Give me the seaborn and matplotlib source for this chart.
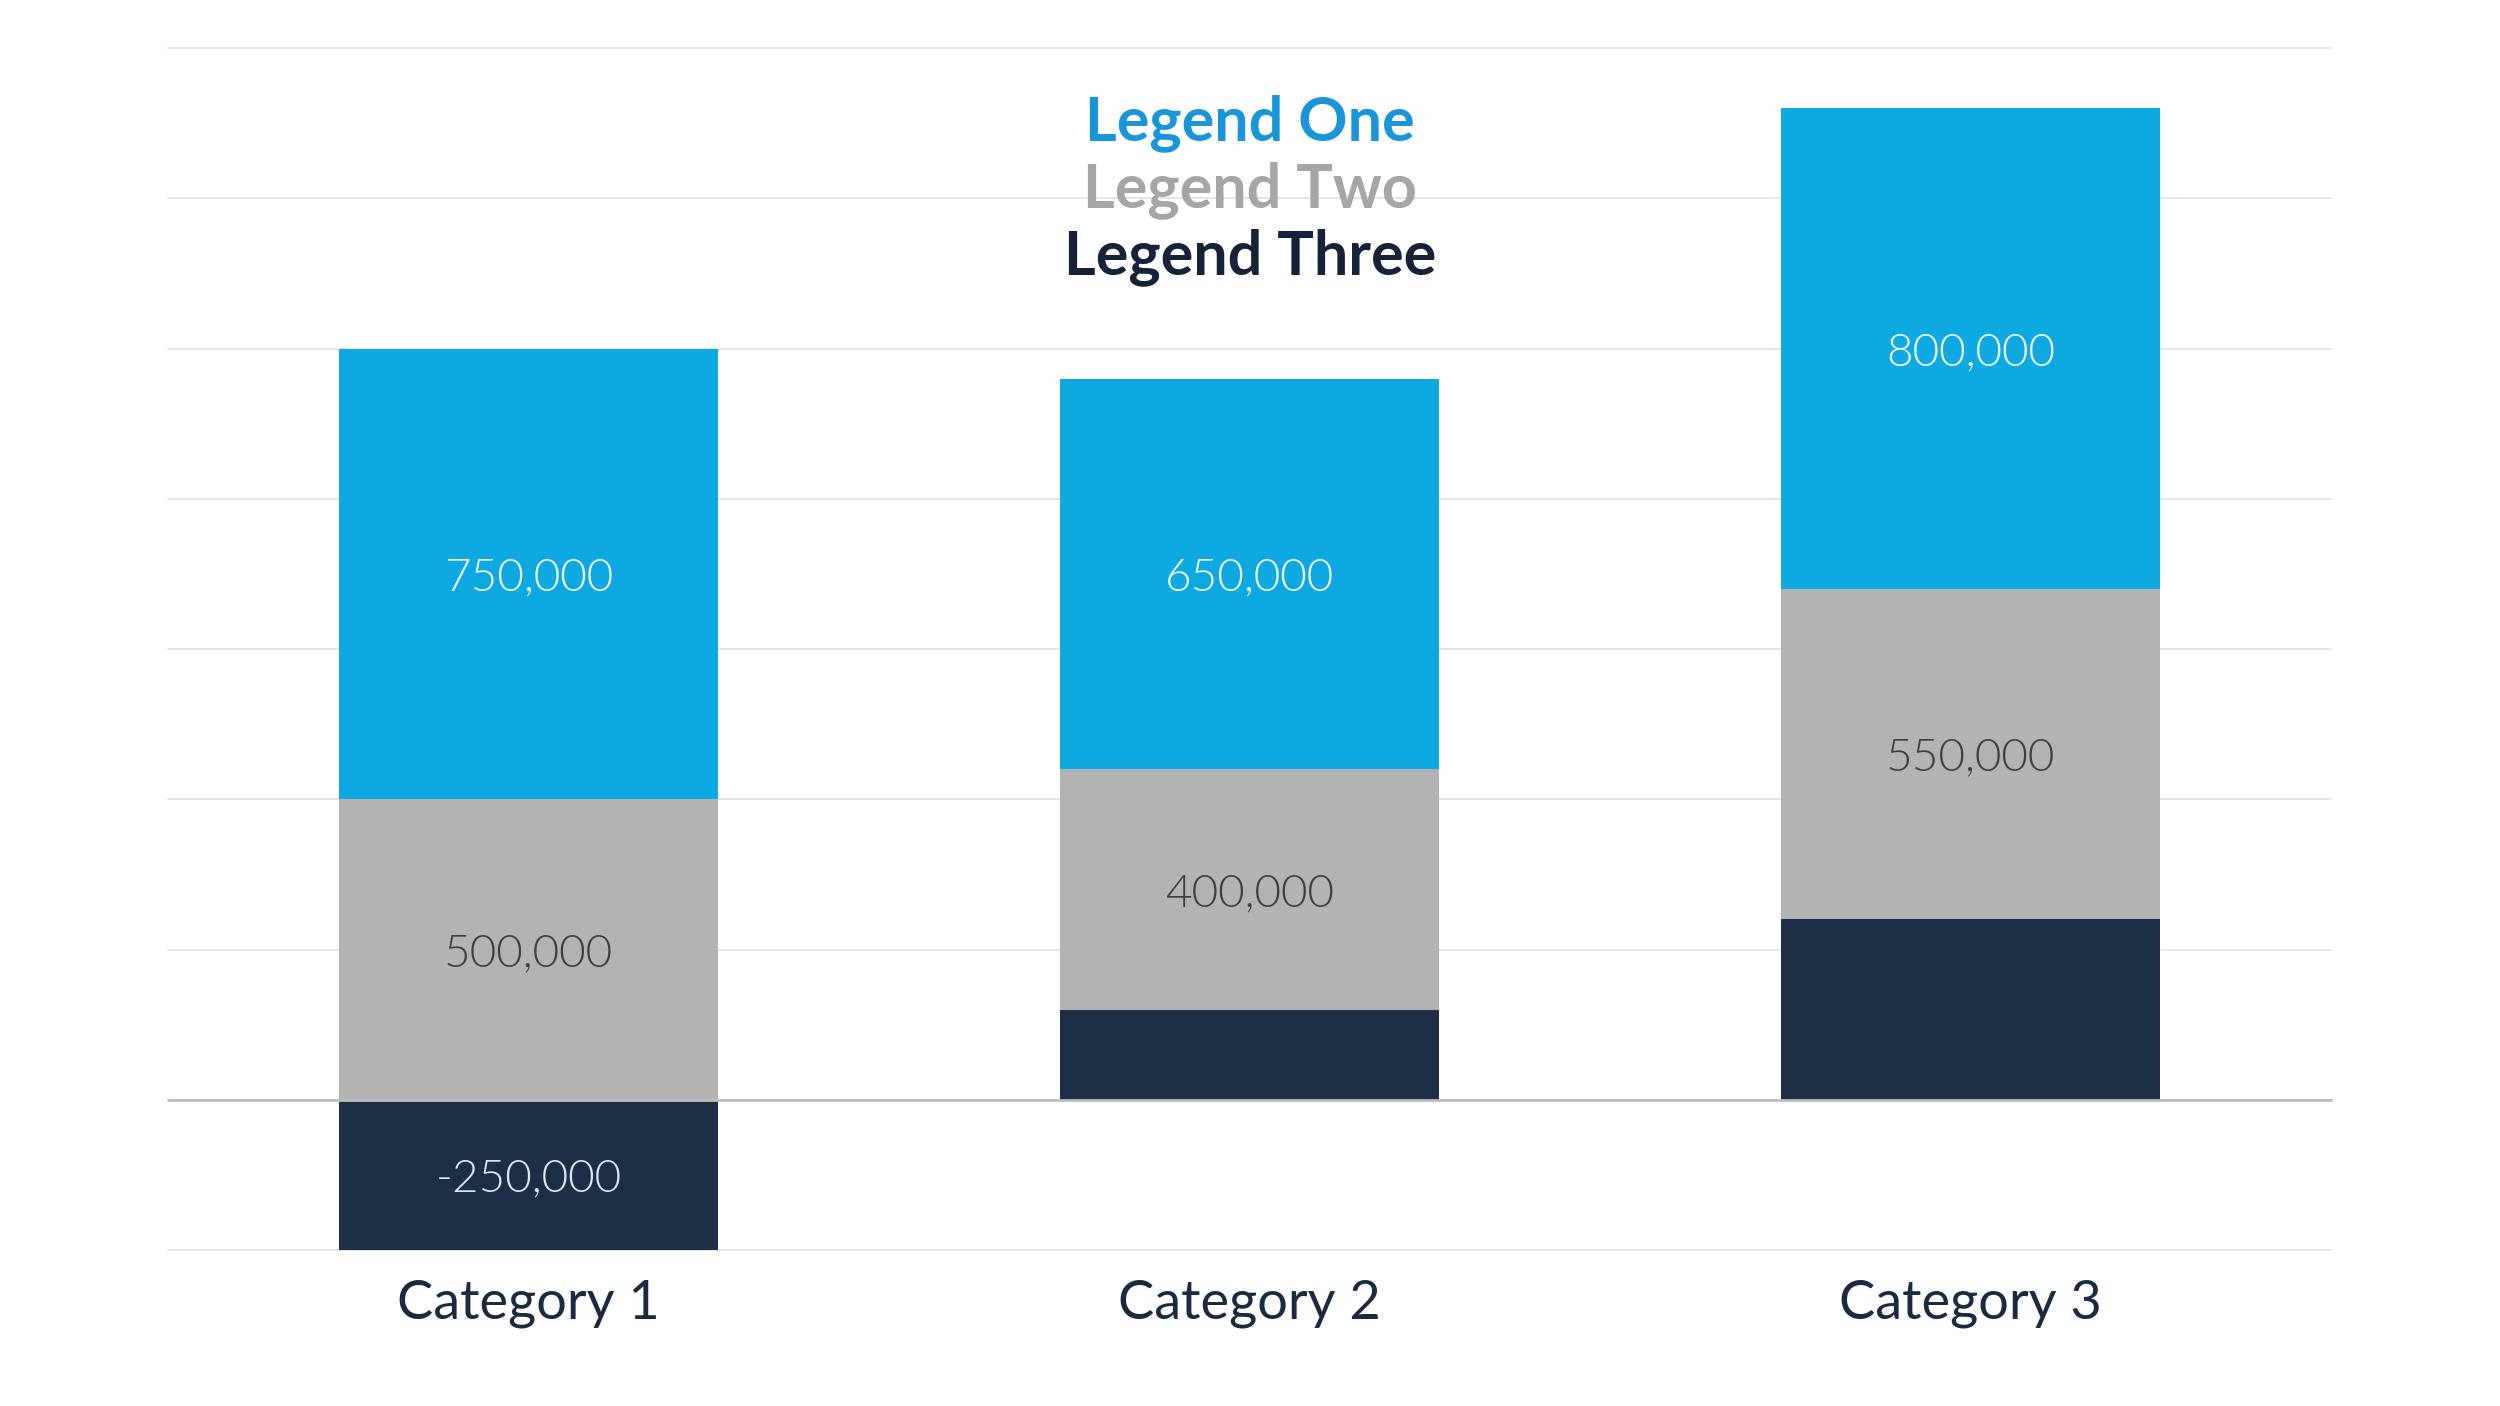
import matplotlib
matplotlib.use("Agg")
import matplotlib.pyplot as plt
import seaborn as sns
import numpy as np

categories = ["Category 1", "Category 2", "Category 3"]
legend_one = [750000, 650000, 800000]
legend_two = [500000, 400000, 550000]
legend_three = [-250000, 150000, 300000]
show_three_label = [True, False, False]
series_names = ["Legend One", "Legend Two", "Legend Three"]
y_ticks = [-250000, 0, 250000, 500000, 750000, 1000000, 1250000, 1500000, 1750000]

c_blue = "#0DA9E0"
c_gray = "#B3B3B3"
c_dark = "#1D2F47"

sns.set_theme(style="white")
plt.rcParams["font.family"] = ["Lato", "DejaVu Sans"]

fig = plt.figure(figsize=(25, 14.06), dpi=100)
ax = fig.add_axes([168 / 2500, 0.11095, 2163 / 2500, 0.8549])

three = np.array(legend_three, dtype=float)
two = np.array(legend_two, dtype=float)
one = np.array(legend_one, dtype=float)
pos3 = np.clip(three, 0, None)
bottom_two = pos3
bottom_one = pos3 + two

w = 0.526
sns.barplot(x=categories, y=three, color=c_dark, width=w, saturation=1, ax=ax, linewidth=0, zorder=3)
sns.barplot(x=categories, y=two, bottom=bottom_two, color=c_gray, width=w, saturation=1, ax=ax, linewidth=0, zorder=3)
sns.barplot(x=categories, y=one, bottom=bottom_one, color=c_blue, width=w, saturation=1, ax=ax, linewidth=0, zorder=3)

ax.set_xlim(-0.5, 2.5)
ax.set_ylim(y_ticks[0], y_ticks[-1])
for s in ax.spines.values():
    s.set_visible(False)
for t in y_ticks:
    ax.axhline(t, color="#BDBDBD" if t == 0 else "#E3E3E3", lw=2 if t == 0 else 1.3,
               zorder=1 if t != 0 else 4, clip_on=False)
ax.set_yticks([])
ax.set_ylabel("")
ax.set_xlabel("")
ax.tick_params(axis="x", length=0, pad=21, labelsize=39, labelcolor="#1B2A41")

def fmt(v):
    return f"{int(v):,}"

lab_kw = dict(ha="center", va="center_baseline", fontsize=33, fontweight=300, zorder=5)
for i in range(len(categories)):
    ax.text(i, bottom_one[i] + one[i] / 2, fmt(one[i]), color="#F2F8FC", **lab_kw)
    ax.text(i, bottom_two[i] + two[i] / 2, fmt(two[i]), color="#3F3F3F", **lab_kw)
    if show_three_label[i]:
        ax.text(i, three[i] / 2, fmt(three[i]), color="#DCE8F5", **lab_kw)

leg_colors = ["#1A96D8", "#A6A6A6", "#172238"]
leg_y = [123, 190, 257]
for name, col, yy in zip(series_names, leg_colors, leg_y):
    fig.text(1250 / 2500, 1 - yy / 1406, name, ha="center", va="center",
             color=col, fontsize=44, fontweight="bold")

fig.savefig("out.png", dpi=100, facecolor="white")
